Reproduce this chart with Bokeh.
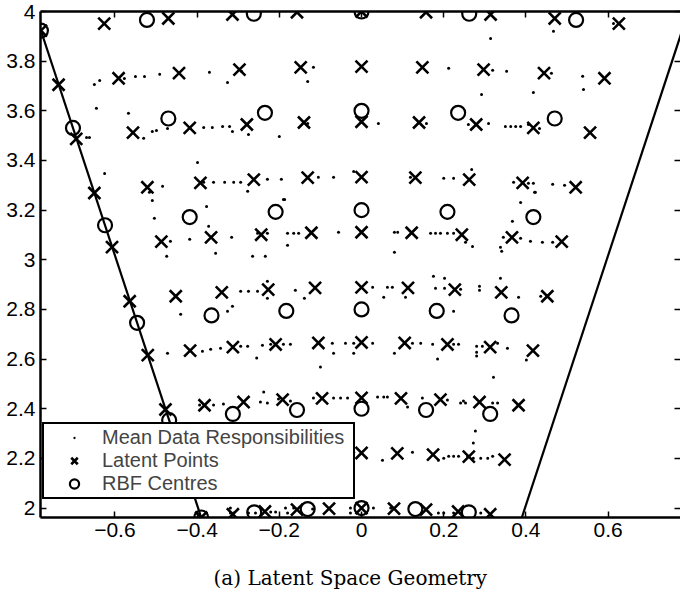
from bokeh.plotting import figure
from bokeh.models import Range1d, LinearAxis, FixedTicker, Legend, LegendItem, Title
from bokeh.embed import file_html
from bokeh.resources import INLINE

# ---- data ----
# latent points (10 arcs x 10 columns)
latent_x = [
    -0.390, -0.313, -0.235, -0.157, -0.079, 0.000, 0.079, 0.157, 0.235, 0.313,
    -0.434, -0.348, -0.261, -0.174, -0.087, 0.000, 0.087, 0.174, 0.261, 0.348,
    -0.477, -0.382, -0.287, -0.192, -0.096, 0.000, 0.096, 0.192, 0.287, 0.382,
    -0.520, -0.417, -0.313, -0.209, -0.105, 0.000, 0.105, 0.209, 0.313, 0.417,
    -0.564, -0.452, -0.340, -0.227, -0.113, 0.000, 0.113, 0.227, 0.340, 0.452,
    -0.607, -0.487, -0.366, -0.244, -0.122, 0.000, 0.122, 0.244, 0.366, 0.487,
    -0.650, -0.521, -0.392, -0.262, -0.131, 0.000, 0.131, 0.262, 0.392, 0.521,
    -0.694, -0.556, -0.418, -0.279, -0.140, 0.000, 0.140, 0.279, 0.418, 0.556,
    -0.737, -0.591, -0.444, -0.297, -0.148, 0.000, 0.148, 0.297, 0.444, 0.591,
    -0.780, -0.626, -0.470, -0.314, -0.157, 0.000, 0.157, 0.314, 0.470, 0.626,
]
latent_y = [
    1.962, 1.975, 1.986, 1.994, 1.998, 2.000, 1.998, 1.994, 1.986, 1.975,
    2.179, 2.195, 2.207, 2.215, 2.220, 2.222, 2.220, 2.215, 2.207, 2.195,
    2.397, 2.414, 2.427, 2.437, 2.442, 2.444, 2.442, 2.437, 2.427, 2.414,
    2.616, 2.634, 2.648, 2.659, 2.665, 2.667, 2.665, 2.659, 2.648, 2.634,
    2.833, 2.853, 2.869, 2.880, 2.887, 2.889, 2.887, 2.880, 2.869, 2.853,
    3.051, 3.073, 3.090, 3.101, 3.109, 3.111, 3.109, 3.101, 3.090, 3.073,
    3.269, 3.292, 3.310, 3.323, 3.331, 3.333, 3.331, 3.323, 3.310, 3.292,
    3.487, 3.512, 3.531, 3.545, 3.553, 3.556, 3.553, 3.545, 3.531, 3.512,
    3.705, 3.731, 3.752, 3.766, 3.775, 3.778, 3.775, 3.766, 3.752, 3.731,
    3.923, 3.951, 3.972, 3.988, 3.997, 4.000, 3.997, 3.988, 3.972, 3.951,
]

# RBF centres (6 arcs x 6 columns)
rbf_x = [
    -0.390, -0.261, -0.131, 0.000, 0.131, 0.261,
    -0.468, -0.313, -0.157, 0.000, 0.157, 0.313,
    -0.546, -0.365, -0.183, 0.000, 0.183, 0.365,
    -0.624, -0.418, -0.209, 0.000, 0.209, 0.418,
    -0.702, -0.470, -0.235, 0.000, 0.235, 0.470,
    -0.780, -0.522, -0.262, 0.000, 0.262, 0.522,
]
rbf_y = [
    1.962, 1.983, 1.996, 2.000, 1.996, 1.983,
    2.354, 2.379, 2.395, 2.400, 2.395, 2.379,
    2.746, 2.776, 2.794, 2.800, 2.794, 2.776,
    3.139, 3.172, 3.193, 3.200, 3.193, 3.172,
    3.531, 3.569, 3.592, 3.600, 3.592, 3.569,
    3.923, 3.966, 3.991, 4.000, 3.991, 3.966,
]

# mean data responsibilities
resp_x = [
    -0.650, -0.637, -0.577, -0.550, -0.528, -0.491, -0.370, -0.326, -0.292, -0.131, -0.117,
    -0.645, -0.567, -0.669, -0.662, -0.530, -0.509, -0.499, -0.472, -0.384, -0.363, -0.338,
    -0.321, -0.314, -0.275, -0.200, -0.131,
    -0.399, -0.625, -0.484, -0.516, -0.384, -0.360, -0.333, -0.311, -0.294, -0.277, -0.229,
    -0.195, -0.105, -0.068, -0.190,
    0.314, 0.467, 0.613, 0.212, 0.319, 0.353, 0.462, 0.538, 0.540, 0.292, 0.418,
    0.041, 0.158, 0.260, 0.309, 0.350, 0.363, 0.375, 0.387, 0.406, 0.433,
    -0.019, 0.119, 0.200, 0.224, 0.268, 0.370, 0.406, 0.418, 0.423, 0.465, 0.494,
    -0.509, -0.504, -0.377, -0.372, -0.418, -0.465, -0.474, -0.355, -0.316, -0.253, -0.229,
    -0.265, -0.234, -0.187, -0.180, -0.180, -0.165, -0.153, -0.056,
    -0.440, -0.314, -0.326, -0.294, -0.275, -0.253, -0.229, -0.229, -0.161, -0.139,
    -0.472, -0.387, -0.367, -0.343, -0.294, -0.277, -0.255, -0.241, -0.221, -0.190, -0.173,
    -0.071, -0.068, -0.100,
    0.387, 0.421, 0.367, 0.338, 0.341, 0.345, 0.387, 0.411, 0.440, 0.465, 0.080, 0.088,
    0.080, 0.168, 0.180, 0.192, 0.209, 0.224, 0.253, 0.270,
    0.027, 0.063, 0.075, 0.054, 0.107, 0.175, 0.202, 0.180, 0.202, 0.241, 0.287, 0.287,
    0.338, 0.382, 0.436, 0.224,
    -0.039, -0.019, 0.027, -0.019, 0.080, 0.124, 0.144, 0.173, 0.185, 0.224, 0.236, 0.280,
    0.280, 0.280, 0.294, 0.331, 0.355, 0.401, 0.321,
    -0.394, -0.360, -0.336, -0.246, -0.238, -0.229, -0.202, -0.173, -0.117, -0.068,
    -0.319, -0.319, -0.311, -0.275, -0.258, -0.221, -0.209, -0.185, -0.180, -0.165, -0.119,
    -0.051, -0.034, 0.039, 0.054, 0.063, 0.148, 0.112, 0.209, 0.241, 0.253, 0.248, 0.319,
    0.331, 0.277, 0.272,
    -0.019, 0.051, 0.124, 0.187, 0.200, 0.212, 0.224, 0.236, 0.258, 0.272, 0.290, 0.307, 0.319,
    -0.027, -0.027, 0.029, 0.071, 0.187, 0.200, 0.224, 0.241, 0.290,
]
resp_y = [
    3.706, 3.722, 3.730, 3.738, 3.738, 3.747, 3.755, 3.714, 3.759, 3.718, 3.775,
    3.610, 3.590, 3.493, 3.493, 3.489, 3.517, 3.521, 3.529, 3.533, 3.533, 3.537,
    3.537, 3.517, 3.505, 3.497, 3.549,
    3.392, 3.348, 3.296, 3.272, 3.312, 3.312, 3.312, 3.312, 3.312, 3.276, 3.324,
    3.324, 3.332, 3.332, 3.243,
    3.891, 3.920, 3.952, 3.771, 3.763, 3.759, 3.751, 3.739, 3.686, 3.666, 3.674,
    3.549, 3.549, 3.545, 3.549, 3.537, 3.537, 3.537, 3.537, 3.545, 3.529,
    3.356, 3.332, 3.328, 3.328, 3.364, 3.312, 3.308, 3.308, 3.272, 3.304, 3.300,
    3.239, 3.167, 3.215, 3.135, 3.083, 3.075, 3.014, 3.026, 3.091, 3.107, 3.107,
    3.014, 3.014, 3.243, 3.059, 3.107, 3.107, 3.107, 3.111,
    2.781, 2.813, 2.793, 2.873, 2.873, 2.873, 2.914, 2.845, 2.877, 2.845,
    2.624, 2.632, 2.640, 2.644, 2.652, 2.652, 2.604, 2.656, 2.660, 2.660, 2.660,
    2.664, 2.624, 2.568,
    3.231, 3.272, 3.155, 3.050, 3.034, 3.091, 3.087, 3.075, 3.071, 3.071, 3.111, 3.111,
    3.030, 3.107, 3.107, 3.107, 3.107, 3.107, 3.071, 3.054,
    2.889, 2.889, 2.889, 2.849, 2.849, 2.934, 2.926, 2.885, 2.885, 2.881, 2.893, 2.877,
    2.926, 2.849, 2.853, 2.793,
    2.664, 2.664, 2.664, 2.624, 2.624, 2.664, 2.664, 2.660, 2.600, 2.660, 2.660, 2.652,
    2.628, 2.612, 2.652, 2.664, 2.644, 2.596, 2.527,
    2.415, 2.415, 2.419, 2.427, 2.467, 2.423, 2.439, 2.431, 2.443, 2.443,
    2.000, 1.980, 1.980, 1.980, 1.980, 1.984, 1.984, 2.000, 1.980, 2.000, 1.996,
    2.443, 2.443, 2.447, 2.447, 2.447, 2.443, 2.407, 2.435, 2.423, 2.423, 2.431, 2.423,
    2.423, 2.310, 2.262,
    2.225, 2.193, 2.225, 2.193, 2.201, 2.209, 2.209, 2.209, 2.209, 2.201, 2.201, 2.201, 2.209,
    2.000, 1.980, 2.000, 2.000, 1.980, 1.980, 1.980, 1.980, 1.980,
]

# sector boundary lines
left_x = [-0.780, -0.390]
left_y = [3.923, 1.962]
right_x = [0.390, 0.780]
right_y = [1.962, 3.923]

x_ticks = [-0.6, -0.4, -0.2, 0, 0.2, 0.4, 0.6]
x_labels = ["\u22120.6", "\u22120.4", "\u22120.2", "0", "0.2", "0.4", "0.6"]
y_ticks = [2, 2.2, 2.4, 2.6, 2.8, 3, 3.2, 3.4, 3.6, 3.8, 4]
y_labels = ["2", "2.2", "2.4", "2.6", "2.8", "3", "3.2", "3.4", "3.6", "3.8", "4"]

caption = "(a) Latent Space Geometry"

# ---- figure ----
p = figure(width=680, height=591, output_backend="svg", toolbar_location=None,
           x_range=Range1d(-0.781, 0.776), y_range=Range1d(1.962, 4.0),
           x_axis_location=None, y_axis_location=None,
           min_border_left=40, min_border_right=0, min_border_top=11, min_border_bottom=74)
p.grid.visible = False
p.outline_line_color = None
p.background_fill_color = "white"
p.border_fill_color = "white"

FONT = "Liberation Sans"


def make_axis(ticks, labels, show_labels=True, show_line=True):
    if show_labels:
        overrides = {t: l for t, l in zip(ticks, labels)}
    else:
        overrides = {t: "" for t in ticks}
    ax = LinearAxis(ticker=FixedTicker(ticks=ticks), major_label_overrides=overrides)
    ax.axis_line_width = 2.5
    ax.axis_line_color = "black" if show_line else None
    ax.major_tick_in = 6
    ax.major_tick_out = 0
    ax.major_tick_line_width = 1.5
    ax.major_tick_line_color = "black"
    ax.minor_tick_line_color = None
    ax.major_label_text_font = FONT
    ax.major_label_text_color = "black"
    if show_labels:
        ax.major_label_text_font_size = "21px"
        ax.major_label_standoff = 5
    else:
        ax.major_label_text_font_size = "1px"
        ax.major_label_standoff = 0
    return ax


p.add_layout(make_axis(x_ticks, x_labels), "below")
p.add_layout(make_axis(y_ticks, y_labels), "left")
p.add_layout(make_axis(x_ticks, x_labels, show_labels=False), "above")
p.add_layout(make_axis(y_ticks, y_labels, show_labels=False, show_line=False), "right")

p.line(left_x, left_y, line_color="black", line_width=2.2)
p.line(right_x, right_y, line_color="black", line_width=2.2)

r_dots = p.scatter(resp_x, resp_y, marker="dot", size=12, color="black")
r_lat = p.scatter(latent_x, latent_y, marker="x", size=17, line_color="black", line_width=2.6)
r_rbf = p.scatter(rbf_x, rbf_y, marker="circle", size=14, line_color="black", line_width=2.2,
                  fill_color=None)

legend = Legend(items=[LegendItem(label="Mean Data Responsibilities", renderers=[r_dots]),
                       LegendItem(label="Latent Points", renderers=[r_lat]),
                       LegendItem(label="RBF Centres", renderers=[r_rbf])],
                location=(2, 18), border_line_color="black", border_line_width=2.5,
                border_line_alpha=1.0,
                background_fill_color="white", background_fill_alpha=1.0,
                label_text_font=FONT, label_text_font_size="20px",
                glyph_width=56, glyph_height=23, label_height=23, label_width=249,
                spacing=0, padding=2, margin=0, label_standoff=0)
p.add_layout(legend)

# caption: a leading blank line leaves the gap between tick labels and caption
p.add_layout(Title(text="\n" + caption, align="left", offset=173, text_font="DejaVu Serif",
                   text_font_size="20px", text_font_style="normal", text_color="black",
                   vertical_align="bottom", standoff=0), "below")

open("out.html", "w").write(file_html(p, INLINE))
